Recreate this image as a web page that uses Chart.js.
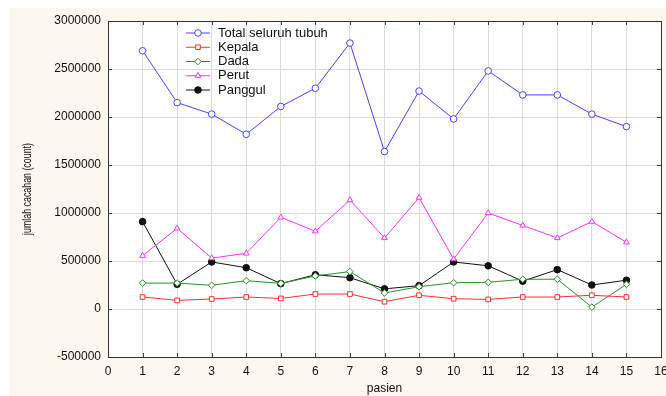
<!DOCTYPE html>
<html lang="id">
<head>
    <meta charset="UTF-8">
    <title>Jumlah cacahan per pasien</title>
    <script src="https://cdn.jsdelivr.net/npm/chart.js"></script>
    <style>
        body {
            margin: 0;
            padding: 0;
            background: #ffffff;
        }
        .wrap {
            width: 666px;
            height: 396px;
        }
    </style>
</head>
<body>
    <div class="wrap">
        <canvas id="countChart" width="666" height="396"></canvas>
    </div>
    <script>
        // data
        const pasien = [1, 2, 3, 4, 5, 6, 7, 8, 9, 10, 11, 12, 13, 14, 15];
        const totalSeluruhTubuh = [2690000, 2150000, 2030000, 1820000, 2110000, 2300000, 2770000, 1640000, 2270000, 1980000, 2480000, 2230000, 2230000, 2030000, 1900000];
        const kepala = [125000, 90000, 104000, 125000, 110000, 156000, 156000, 76000, 143000, 107000, 100000, 125000, 125000, 143000, 125000];
        const dada = [270000, 270000, 247000, 295000, 267000, 344000, 390000, 167000, 232000, 274000, 278000, 310000, 310000, 20000, 257000];
        const perut = [555000, 840000, 530000, 580000, 955000, 810000, 1135000, 740000, 1160000, 520000, 1000000, 870000, 740000, 910000, 695000];
        const panggul = [910000, 257000, 490000, 430000, 264000, 357000, 326000, 210000, 243000, 490000, 450000, 290000, 410000, 250000, 300000];

        const seriesNames = ['Total seluruh tubuh', 'Kepala', 'Dada', 'Perut', 'Panggul'];
        const xTicks = [0, 16, 1];
        const yTicks = [-500000, 3000000, 500000];
        const yTitle = 'jumlah cacahan (count)';

        const font = "'Liberation Sans', Arial, sans-serif";

        function pts(values) {
            return values.map((v, i) => ({ x: pasien[i], y: v }));
        }

        // cream page background + white plot area + frame and inside ticks
        const frame = {
            id: 'frame',
            beforeDraw(chart) {
                const ctx = chart.ctx;
                const a = chart.chartArea;
                ctx.save();
                ctx.fillStyle = '#fdf8ee';
                ctx.fillRect(10, 8, chart.width - 10, chart.height - 8);
                ctx.fillStyle = '#ffffff';
                ctx.fillRect(a.left, a.top, a.right - a.left, a.bottom - a.top);
                ctx.restore();
            },
            afterDatasetsDraw(chart) {
                const ctx = chart.ctx;
                const a = chart.chartArea;
                const xs = chart.scales.x;
                const ys = chart.scales.y;
                ctx.save();
                ctx.strokeStyle = '#444';
                ctx.lineWidth = 1;
                ctx.beginPath();
                xs.ticks.forEach(t => {
                    const px = Math.round(xs.getPixelForValue(t.value)) + 0.5;
                    ctx.moveTo(px, a.bottom); ctx.lineTo(px, a.bottom - 4);
                    ctx.moveTo(px, a.top); ctx.lineTo(px, a.top + 4);
                });
                ys.ticks.forEach(t => {
                    const py = Math.round(ys.getPixelForValue(t.value)) + 0.5;
                    ctx.moveTo(a.left, py); ctx.lineTo(a.left + 4, py);
                    ctx.moveTo(a.right, py); ctx.lineTo(a.right - 4, py);
                });
                ctx.stroke();
                ctx.strokeStyle = '#333';
                ctx.strokeRect(Math.round(a.left) + 0.5, Math.round(a.top) + 0.5,
                    Math.round(a.right - a.left), Math.round(a.bottom - a.top));

                // narrow y axis title
                ctx.save();
                ctx.translate(27, (a.top + a.bottom) / 2);
                ctx.rotate(-Math.PI / 2);
                ctx.scale(0.68, 1);
                ctx.fillStyle = '#111';
                ctx.font = '13px ' + font;
                ctx.textAlign = 'center';
                ctx.textBaseline = 'middle';
                ctx.fillText(yTitle, 0, 0);
                ctx.restore();

                // legend inside the plot
                const lx = 186, ly = 33, step = 14.25;
                chart.data.datasets.forEach((ds, i) => {
                    const y = ly + i * step;
                    ctx.strokeStyle = ds.borderColor;
                    ctx.lineWidth = 1;
                    ctx.beginPath();
                    ctx.moveTo(lx, y); ctx.lineTo(lx + 24, y);
                    ctx.stroke();
                    ctx.fillStyle = ds.pointBackgroundColor;
                    Chart.helpers.drawPoint(ctx, {
                        pointStyle: ds.pointStyle,
                        radius: ds.pointRadius,
                        borderWidth: 1,
                        rotation: 0
                    }, lx + 12, y);
                    ctx.fillStyle = '#111';
                    ctx.font = '13px ' + font;
                    ctx.textBaseline = 'middle';
                    ctx.textAlign = 'left';
                    ctx.fillText(ds.label, lx + 32, y);
                });
                ctx.restore();
            }
        };

        const colors = ['#4646ff', '#ff3030', '#2a922a', '#ff30ff', '#111111'];
        const styles = ['circle', 'rect', 'rectRot', 'triangle', 'circle'];
        const fills = ['#ffffff', '#ffffff', '#ffffff', '#ffffff', '#111111'];
        const allValues = [totalSeluruhTubuh, kepala, dada, perut, panggul];

        const ctx = document.getElementById('countChart').getContext('2d');
        const countChart = new Chart(ctx, {
            type: 'line',
            data: {
                datasets: seriesNames.map((name, i) => ({
                    label: name,
                    data: pts(allValues[i]),
                    borderColor: colors[i],
                    backgroundColor: colors[i],
                    pointBorderColor: colors[i],
                    pointBackgroundColor: fills[i],
                    pointStyle: styles[i],
                    pointRadius: 3.3,
                    pointBorderWidth: 1,
                    borderWidth: 1,
                    tension: 0,
                    fill: false
                }))
            },
            options: {
                responsive: false,
                animation: false,
                layout: {
                    padding: { top: 21, right: 3, left: 0, bottom: 0 }
                },
                plugins: {
                    legend: { display: false },
                    tooltip: { enabled: false }
                },
                scales: {
                    x: {
                        type: 'linear',
                        min: xTicks[0],
                        max: xTicks[1],
                        ticks: {
                            stepSize: xTicks[2],
                            color: '#111',
                            padding: 7,
                            maxRotation: 0,
                            font: { family: font, size: 12 }
                        },
                        grid: { color: '#dcdcdc', drawTicks: false },
                        border: { display: false },
                        title: {
                            display: true,
                            text: 'pasien',
                            color: '#111',
                            padding: { top: 4, bottom: 0 },
                            font: { family: font, size: 12 }
                        },
                        afterFit(s) {
                            s.height = 39;
                            s.paddingLeft = 0;
                            s.paddingRight = 0;
                        }
                    },
                    y: {
                        min: yTicks[0],
                        max: yTicks[1],
                        ticks: {
                            stepSize: yTicks[2],
                            color: '#111',
                            padding: 7,
                            font: { family: font, size: 12 },
                            callback: v => String(v)
                        },
                        grid: { color: '#dcdcdc', drawTicks: false },
                        border: { display: false },
                        title: { display: false },
                        afterFit(s) {
                            s.width = 108;
                            s.paddingTop = 0;
                            s.paddingBottom = 0;
                        }
                    }
                }
            },
            plugins: [frame]
        });
    </script>
</body>
</html>
